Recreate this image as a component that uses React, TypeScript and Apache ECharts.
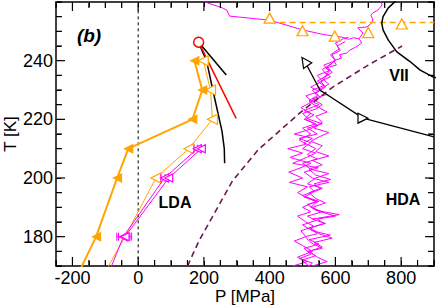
import React, { useEffect, useRef } from "react";
import * as echarts from "echarts";

// ---- tick labels ----
const xTickLabels = [-200, 0, 200, 400, 600, 800];
const yTickLabels = [180, 200, 220, 240];
const xRange = [-250, 900];
const yRange = [170, 260];
const xMinorStep = 50;
const yMinorStep = 5;

// ---- series data [P (MPa), T (K)] ----
const ldaFilled = [[171, 240], [195, 230], [165, 220], [-30, 210], [-64, 200], [-128, 180], [-214, 160]];
const ldaOpen = [[198, 240], [220, 230], [226, 220], [154, 210], [54, 200], [-40, 180], [-140, 160]];
const magentaA = [[-45, 180], [80, 200], [180, 210]];
const magentaAErr = [20, 11, 10];
const magentaB = [[-40, 180], [93, 200], [192, 210]];
const magentaBErr = [20, 11, 12];
const magentaTail = [[-117, 160], [-45, 180]];
const criticalPoint = [[184, 246.3]];
const redLine = [[184, 246.3], [298, 220.3]];
const blackUpper = [[184, 246.3], [268, 235.1]];
const blackLower = [[184, 246.3], [196, 243], [208, 240], [227, 230], [241, 223], [255, 216], [262, 210], [263, 205]];
const viiBoundary = [[800, 263], [782, 260.2], [761, 258], [745, 255], [741, 252.8], [745, 250.5], [761, 247], [787, 243], [827, 239.7], [858, 236.8], [898, 234.4], [930, 233.5]];
const lhlBoundary = [[150, 170], [186, 178.8], [287, 199], [364, 209.5], [492, 222.2], [592, 231], [700, 238.5], [803, 245]];
const orangeUp = [[400, 254.5], [500, 250.2], [598, 248.4], [700, 249.6], [802, 252.5]];
const orangeDashed = [[400, 253], [900, 253]];
const arrowPath = [[900, 214], [684, 220.4], [553, 230], [507, 239.7]];
const zeroLine = [[0, 160], [0, 270]];

const topTrajectory = [[195, 260.7], [211, 259.7], [256, 258], [269, 257.3], [278, 255.2], [400, 253.8], [500, 250.5], [560, 249], [600, 248.3], [620, 248], [640, 247.3], [655, 247.8], [672, 247.5]];
const columnTop = [[560, 233], [583, 236.8], [570, 237.5], [603, 238.5], [595, 240], [619, 240.9], [612, 242], [634, 242.6], [644, 243.6], [660, 244.5], [680, 246], [672, 247.5], [684, 249.4], [668, 251.2], [696, 251.5], [711, 252.9], [714, 254], [708, 255.5], [714, 256.3], [730, 257.3], [742, 259], [736, 261]];
const run1 = [[505, 168], [520, 170], [498, 172], [540, 173.5], [515, 175], [560, 176], [525, 178], [508, 180], [545, 181], [520, 183], [570, 184.5], [530, 186], [612, 187.5], [540, 189], [515, 191], [550, 192], [500, 194], [535, 195.5], [520, 197], [580, 198.5], [530, 200], [505, 202], [548, 203.5], [470, 205], [512, 207], [540, 208.5], [500, 210], [525, 212], [490, 213.5], [545, 215], [515, 217], [560, 218.5], [520, 220], [500, 222], [540, 223.5], [560, 225], [530, 227], [575, 228.5], [548, 230], [580, 232], [560, 234], [590, 236], [575, 238], [600, 240], [585, 242], [612, 244], [600, 246], [625, 247.5], [640, 248]];
const run2 = [[540, 167], [510, 169], [530, 171], [490, 172.5], [525, 174], [505, 176], [550, 177.5], [520, 179], [585, 180.5], [530, 182], [500, 184], [540, 185.5], [515, 187], [560, 188.5], [525, 190], [545, 192], [505, 193.5], [530, 195], [560, 196.5], [515, 198], [540, 200], [580, 201.5], [525, 203], [500, 205], [545, 206.5], [515, 208], [540, 210], [505, 212], [530, 213.5], [475, 215], [520, 216.5], [545, 218], [510, 220], [535, 221.5], [505, 223], [550, 225], [520, 226.5], [545, 228], [530, 230], [565, 231.5], [545, 233], [575, 235], [560, 237], [590, 239]];
const run3 = [[490, 168], [470, 170], [515, 171.5], [485, 173], [530, 175], [500, 177], [475, 178.5], [510, 180], [495, 182], [535, 183.5], [510, 185], [485, 187], [525, 188.5], [500, 190], [540, 192], [510, 193.5], [485, 195], [515, 197], [460, 198.5], [500, 200], [458, 202], [495, 203.5], [525, 205], [462, 207], [500, 208.5], [455, 210], [510, 211.5], [490, 213], [525, 215], [500, 217], [540, 218.5], [505, 220], [525, 222], [495, 224], [530, 226], [510, 228], [550, 229.5], [525, 231], [560, 233], [545, 235], [580, 236.5], [565, 238.5], [600, 240], [590, 242], [615, 243.5], [605, 245], [630, 246.5]];
const run4 = [[560, 168], [530, 170], [575, 171.5], [545, 173], [520, 175], [560, 176.5], [535, 178], [590, 179.5], [550, 181], [525, 183], [565, 184.5], [545, 186], [600, 187], [555, 188.5], [530, 190], [570, 191.5], [540, 193], [520, 195], [555, 196.5], [535, 198], [585, 199.5], [540, 201], [520, 203], [560, 204.5], [530, 206], [580, 207.5], [540, 209], [560, 211], [525, 212.5], [550, 214], [580, 215.5], [535, 217], [560, 219], [540, 221], [575, 222.5], [550, 224], [520, 226], [555, 227.5], [540, 229], [570, 231], [555, 233], [585, 234.5], [570, 236]];

const FONT = "'Liberation Sans', Arial, Helvetica, sans-serif";
const ORANGE = "#ffa500";
const MAGENTA = "#ff00ff";
const GRID = { left: 56, right: 2, top: 2, bottom: 40 };
const W = 436;
const H = 306;

function steps(lo: number, hi: number, step: number) {
  const out: number[] = [];
  for (let v = lo; v <= hi + 1e-9; v += step) out.push(v);
  return out;
}

function lineSeries(data: any[], color: string, width: number, extra: any = {}) {
  return {
    type: "line",
    data,
    symbol: "none",
    lineStyle: { color, width },
    itemStyle: { color },
    z: 2,
    ...extra,
  };
}

function errorSeries(pts: number[][], errs: number[]) {
  return {
    type: "custom",
    data: pts.map((d, i) => [d[0], d[1], errs[i]]),
    encode: { x: 0, y: 1 },
    z: 5,
    renderItem: (params: any, api: any) => {
      const p = api.value(0);
      const t = api.value(1);
      const e = api.value(2);
      const a = api.coord([p - e, t]);
      const b = api.coord([p + e, t]);
      const st = { stroke: MAGENTA, lineWidth: 1 };
      return {
        type: "group",
        children: [
          { type: "line", shape: { x1: a[0], y1: a[1], x2: b[0], y2: b[1] }, style: st },
          { type: "line", shape: { x1: a[0], y1: a[1] - 4, x2: a[0], y2: a[1] + 4 }, style: st },
          { type: "line", shape: { x1: b[0], y1: b[1] - 4, x2: b[0], y2: b[1] + 4 }, style: st },
        ],
      };
    },
  };
}

// inward tick marks on all four sides, one short line per tick
function tickSeries(isX: boolean) {
  const vals = isX ? steps(xRange[0], xRange[1], xMinorStep) : steps(yRange[0], yRange[1], yMinorStep);
  const major = isX ? xTickLabels : yTickLabels;
  return {
    type: "custom",
    data: vals.map((v) => [isX ? v : xRange[0], isX ? yRange[0] : v, major.includes(v) ? 1 : 0]),
    encode: { x: 0, y: 1 },
    z: 10,
    clip: false,
    renderItem: (params: any, api: any) => {
      const len = api.value(2) ? 8 : 5;
      const st = { stroke: "#000", lineWidth: 1.2 };
      const px = api.coord([api.value(0), api.value(1)]);
      if (isX) {
        const top = api.coord([api.value(0), yRange[1]]);
        return {
          type: "group",
          children: [
            { type: "line", shape: { x1: px[0], y1: px[1] - 1, x2: px[0], y2: px[1] - 1 - len }, style: st },
            { type: "line", shape: { x1: top[0], y1: top[1] + 1, x2: top[0], y2: top[1] + 1 + len }, style: st },
          ],
        };
      }
      const right = api.coord([xRange[1], api.value(1)]);
      return {
        type: "group",
        children: [
          { type: "line", shape: { x1: px[0] + 1, y1: px[1], x2: px[0] + 1 + len, y2: px[1] }, style: st },
          { type: "line", shape: { x1: right[0] - 1, y1: right[1], x2: right[0] - 1 - len, y2: right[1] }, style: st },
        ],
      };
    },
  };
}

function markerData(data: number[][], rotate: number, hidden: number[] = []) {
  return data.map((d, i) =>
    hidden.includes(i) ? { value: d, symbol: "none" } : { value: d, symbolRotate: rotate }
  );
}

function makeAxis(range: number[], position: string, interval: number, extra: any = {}) {
  return {
    type: "value",
    min: range[0],
    max: range[1],
    interval,
    position,
    splitLine: { show: false },
    axisLabel: { show: false },
    axisTick: { show: true, inside: true, length: 5, lineStyle: { color: "#000", width: 1 } },
    axisLine: { show: true, onZero: false, lineStyle: { color: "#000", width: 1.5 } },
    ...extra,
  };
}

export default function App() {
  const ref = useRef<HTMLDivElement>(null);
  useEffect(() => {
    document.body.style.margin = "0";
    if (!ref.current) return;
    const chart = echarts.init(ref.current, undefined, { renderer: "svg" });

    const option: any = {
      animation: false,
      backgroundColor: "#fff",
      grid: { ...GRID, containLabel: false, outerBoundsMode: "none" },
      xAxis: [
        makeAxis(xRange, "bottom", xMinorStep, {
          axisLabel: {
            show: true, interval: 0, margin: 3, fontSize: 18, color: "#000", fontFamily: FONT,
            formatter: (v: number) => (xTickLabels.includes(v) ? String(v) : ""),
          },
          name: "P [MPa]", nameLocation: "middle", nameGap: 21, nameMoveOverlap: false,
          nameTextStyle: { fontSize: 17, color: "#000", fontFamily: FONT, verticalAlign: "top", lineHeight: 18 },
        }),
        makeAxis(xRange, "top", xMinorStep),
      ],
      yAxis: [
        makeAxis(yRange, "left", yMinorStep, {
          axisLabel: {
            show: true, interval: 0, margin: 3, fontSize: 18, color: "#000", fontFamily: FONT,
            formatter: (v: number) => (yTickLabels.includes(v) ? String(v) : ""),
          },
          name: "T [K]", nameLocation: "middle", nameGap: 37, nameRotate: 90, nameMoveOverlap: false,
          nameTextStyle: { fontSize: 17, color: "#000", fontFamily: FONT },
        }),
        makeAxis(yRange, "right", yMinorStep),
      ],
      series: [
        lineSeries(run1, MAGENTA, 1),
        lineSeries(run2, MAGENTA, 1),
        lineSeries(run3, MAGENTA, 1),
        lineSeries(run4, MAGENTA, 1),
        lineSeries(columnTop, MAGENTA, 1),
        lineSeries(topTrajectory, MAGENTA, 1),
        lineSeries(zeroLine, "#000", 1, { lineStyle: { color: "#000", width: 1, type: [3, 3] } }),
        lineSeries(lhlBoundary, "#6a1a50", 1.6, { lineStyle: { color: "#6a1a50", width: 1.6, type: [6, 4] } }),
        lineSeries(orangeDashed, ORANGE, 1.4, { lineStyle: { color: ORANGE, width: 1.4, type: [6, 4] } }),
        lineSeries(viiBoundary, "#000", 1.5),
        lineSeries(blackUpper, "#000", 1.5),
        lineSeries(blackLower, "#000", 1.5),
        lineSeries(redLine, "#ff0000", 1.5),
        lineSeries(arrowPath, "#000", 1.3, {
          data: arrowPath.map((d, i) =>
            i === 1
              ? { value: d, symbol: "triangle", symbolRotate: -90 }
              : i === 3
              ? { value: d, symbol: "triangle", symbolRotate: 35 }
              : { value: d, symbol: "none" }
          ),
          symbol: "triangle", symbolSize: 10,
          itemStyle: { color: "#fff", borderColor: "#000", borderWidth: 1.2 },
          z: 4,
        }),
        lineSeries(ldaOpen, ORANGE, 1, {
          data: markerData(ldaOpen, 90, [5, 6]), symbol: "triangle", symbolSize: 10,
          itemStyle: { color: "#fff", borderColor: ORANGE, borderWidth: 1.2 }, z: 4,
        }),
        lineSeries(ldaFilled, ORANGE, 2, {
          data: markerData(ldaFilled, 90, [6]), symbol: "triangle", symbolSize: 10,
          itemStyle: { color: ORANGE }, z: 4,
        }),
        lineSeries(magentaTail, MAGENTA, 1, { z: 5 }),
        errorSeries(magentaA, magentaAErr),
        errorSeries(magentaB, magentaBErr),
        lineSeries(magentaA, MAGENTA, 1, {
          data: markerData(magentaA, 90), symbol: "triangle", symbolSize: 8,
          itemStyle: { color: "#fff", borderColor: MAGENTA, borderWidth: 1.2 }, z: 6,
        }),
        lineSeries(magentaB, MAGENTA, 1, {
          data: markerData(magentaB, 90), symbol: "triangle", symbolSize: 8,
          itemStyle: { color: "#fff", borderColor: MAGENTA, borderWidth: 1.2 }, z: 6,
        }),
        {
          type: "line", data: orangeUp, symbol: "triangle", symbolSize: [11, 10],
          lineStyle: { width: 0, opacity: 0 },
          itemStyle: { color: "#fff", borderColor: ORANGE, borderWidth: 1.3 }, z: 4,
        },
        {
          type: "line", data: criticalPoint, symbol: "circle", symbolSize: 10,
          itemStyle: { color: "#fff", borderColor: "#ff0000", borderWidth: 1.5 }, z: 7,
        },
        tickSeries(true),
        tickSeries(false),
      ],
      graphic: [
        { type: "text", x: 89, y: 35, style: { text: "(b)", font: `italic bold 19px ${FONT}`, fill: "#000", align: "center", verticalAlign: "middle" } },
        { type: "text", x: 399, y: 75, style: { text: "VII", font: `bold 16px ${FONT}`, fill: "#000", align: "center", verticalAlign: "middle" } },
        { type: "text", x: 175, y: 202, style: { text: "LDA", font: `bold 16px ${FONT}`, fill: "#000", align: "center", verticalAlign: "middle" } },
        { type: "text", x: 403, y: 199, style: { text: "HDA", font: `bold 16px ${FONT}`, fill: "#000", align: "center", verticalAlign: "middle" } },
      ],
    };
    chart.setOption(option);
    return () => chart.dispose();
  }, []);
  return <div ref={ref} style={{ width: W, height: H }} />;
}
